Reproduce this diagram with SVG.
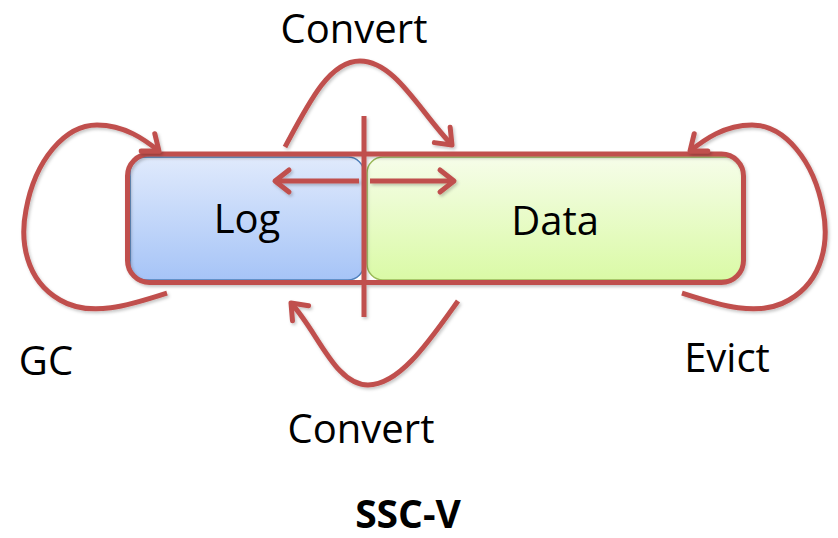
<svg xmlns="http://www.w3.org/2000/svg" width="838" height="538" viewBox="0 0 838 538">
  <defs>
    <linearGradient id="logFill" x1="0" y1="0" x2="0" y2="1">
      <stop offset="0" stop-color="#e0eafc"/>
      <stop offset="1" stop-color="#a6c4f7"/>
    </linearGradient>
    <linearGradient id="dataFill" x1="0" y1="0" x2="0" y2="1">
      <stop offset="0" stop-color="#f6fde9"/>
      <stop offset="1" stop-color="#dafaa6"/>
    </linearGradient>
    <filter id="shadow" x="-20%" y="-20%" width="140%" height="140%">
      <feDropShadow dx="1.5" dy="2" stdDeviation="1.5" flood-color="#000" flood-opacity="0.22"/>
    </filter>
    <marker id="chevron" viewBox="0 0 12 20" refX="11" refY="10" markerWidth="12" markerHeight="20" markerUnits="userSpaceOnUse" orient="auto" overflow="visible">
      <path d="M-3,-1 L11,10 L-3,21" fill="none" stroke="#c0504d" stroke-width="5" stroke-linecap="round" stroke-linejoin="round"/>
    </marker>
  </defs>
  <style>
    text { font-family: "Open Sans", "Liberation Sans", sans-serif; fill: #000; text-anchor: middle; }
    .lbl { font-size: 40px; }
    .title { font-size: 39px; font-weight: bold; }
    .red { fill: none; stroke: #c0504d; stroke-width: 5; stroke-linecap: butt; }
    .arrow { marker-end: url(#chevron); }
  </style>

  <rect width="838" height="538" fill="#ffffff"/>

  <g id="log">
    <rect x="130" y="157" width="234" height="123" rx="16" fill="url(#logFill)" stroke="#4f81bd" stroke-width="1.5"/>
    <text class="lbl" x="247" y="233">Log</text>
  </g>

  <g id="data">
    <rect x="367" y="157" width="376" height="123" rx="16" fill="url(#dataFill)" stroke="#9bbb59" stroke-width="1.5"/>
    <text class="lbl" x="555" y="235">Data</text>
  </g>

  <g id="ssc-frame" filter="url(#shadow)">
    <rect class="red" x="127.5" y="154" width="616" height="128.5" rx="22"/>
    <line class="red" x1="364" y1="116" x2="364" y2="317"/>
  </g>

  <g id="connectors" filter="url(#shadow)">
    <!-- shift between log and data inside the frame -->
    <path class="red arrow" d="M359,181 L275,181"/>
    <path class="red arrow" d="M370,181 L454,181"/>
    <!-- convert over the top -->
    <path class="red arrow" d="M285,147 C310,100 330,61 360,61 C395,61 420,112 452,145"/>
    <!-- convert underneath -->
    <path class="red arrow" d="M458,301 C430,340 400,385 368,385 C335,385 318,332 291,303"/>
    <!-- GC loop on the left -->
    <path class="red arrow" d="M167,293 C130,305 90,318 60,300 C25,280 20,240 26,210 C35,160 65,125 97,125 C125,125 145,140 159,151"/>
    <!-- evict loop on the right -->
    <path class="red arrow" d="M682,293 C719,305 759,318 789,300 C824,280 829,240 823,210 C814,160 784,125 752,125 C724,125 704,140 690,151"/>
  </g>

  <g id="labels">
    <text class="lbl" x="354" y="43">Convert</text>
    <text class="lbl" x="361" y="443">Convert</text>
    <text class="lbl" x="46" y="375">GC</text>
    <text class="lbl" x="727" y="372">Evict</text>
    <text class="title" x="408" y="528">SSC-V</text>
  </g>
</svg>
